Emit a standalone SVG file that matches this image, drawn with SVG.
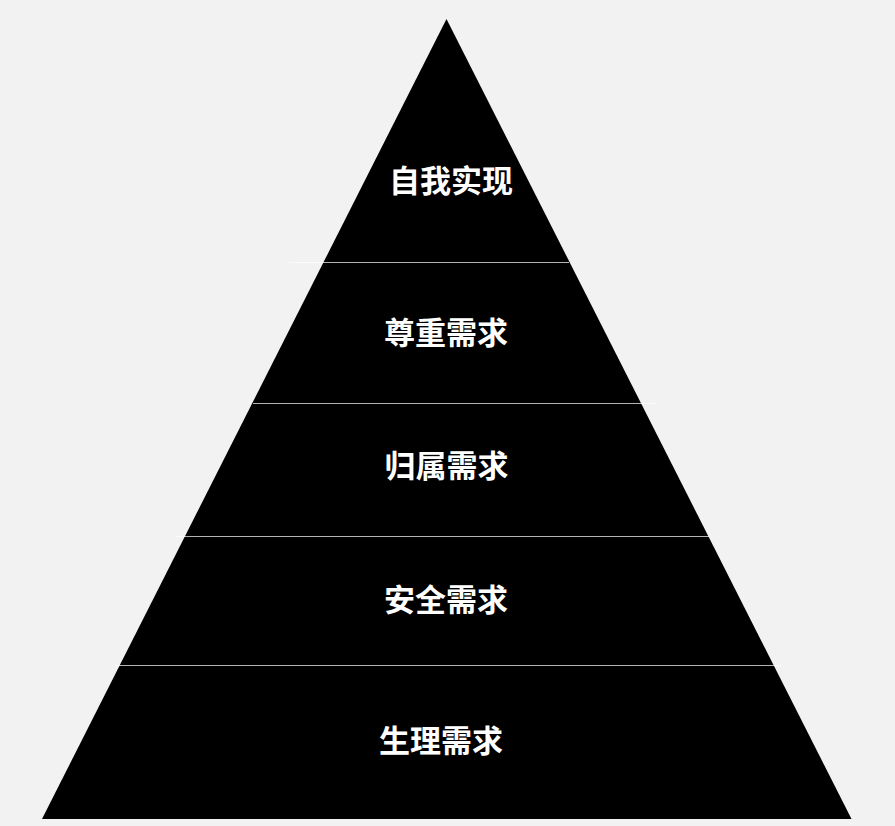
<svg xmlns="http://www.w3.org/2000/svg" width="895" height="826" viewBox="0 0 895 826">
<style>
.lbl{font-family:"Noto Sans CJK SC","Noto Sans",sans-serif;font-weight:bold;font-size:31px;fill:#ffffff;text-anchor:middle}
.sep{stroke:#ffffff;stroke-opacity:0.7;stroke-width:1.2}
</style>
<rect width="895" height="826" fill="#f2f2f2"/>
<g id="pyramid">
<polygon points="446.5,19 851.5,819 42,819" fill="#000000"/>
</g>
<g id="connectors">
<line class="sep" x1="289" y1="262.5" x2="569" y2="262.5"/>
<line class="sep" x1="253" y1="403.5" x2="657" y2="403.5"/>
<line class="sep" x1="176" y1="536.5" x2="709" y2="536.5"/>
<line class="sep" x1="115" y1="665.5" x2="782" y2="665.5"/>
</g>
<g id="level5"><text class="lbl" x="451" y="192">自我实现</text></g>
<g id="level4"><text class="lbl" x="446" y="344">尊重需求</text></g>
<g id="level3"><text class="lbl" x="446.5" y="477">归属需求</text></g>
<g id="level2"><text class="lbl" x="446" y="611">安全需求</text></g>
<g id="level1"><text class="lbl" x="441" y="752">生理需求</text></g>
</svg>
